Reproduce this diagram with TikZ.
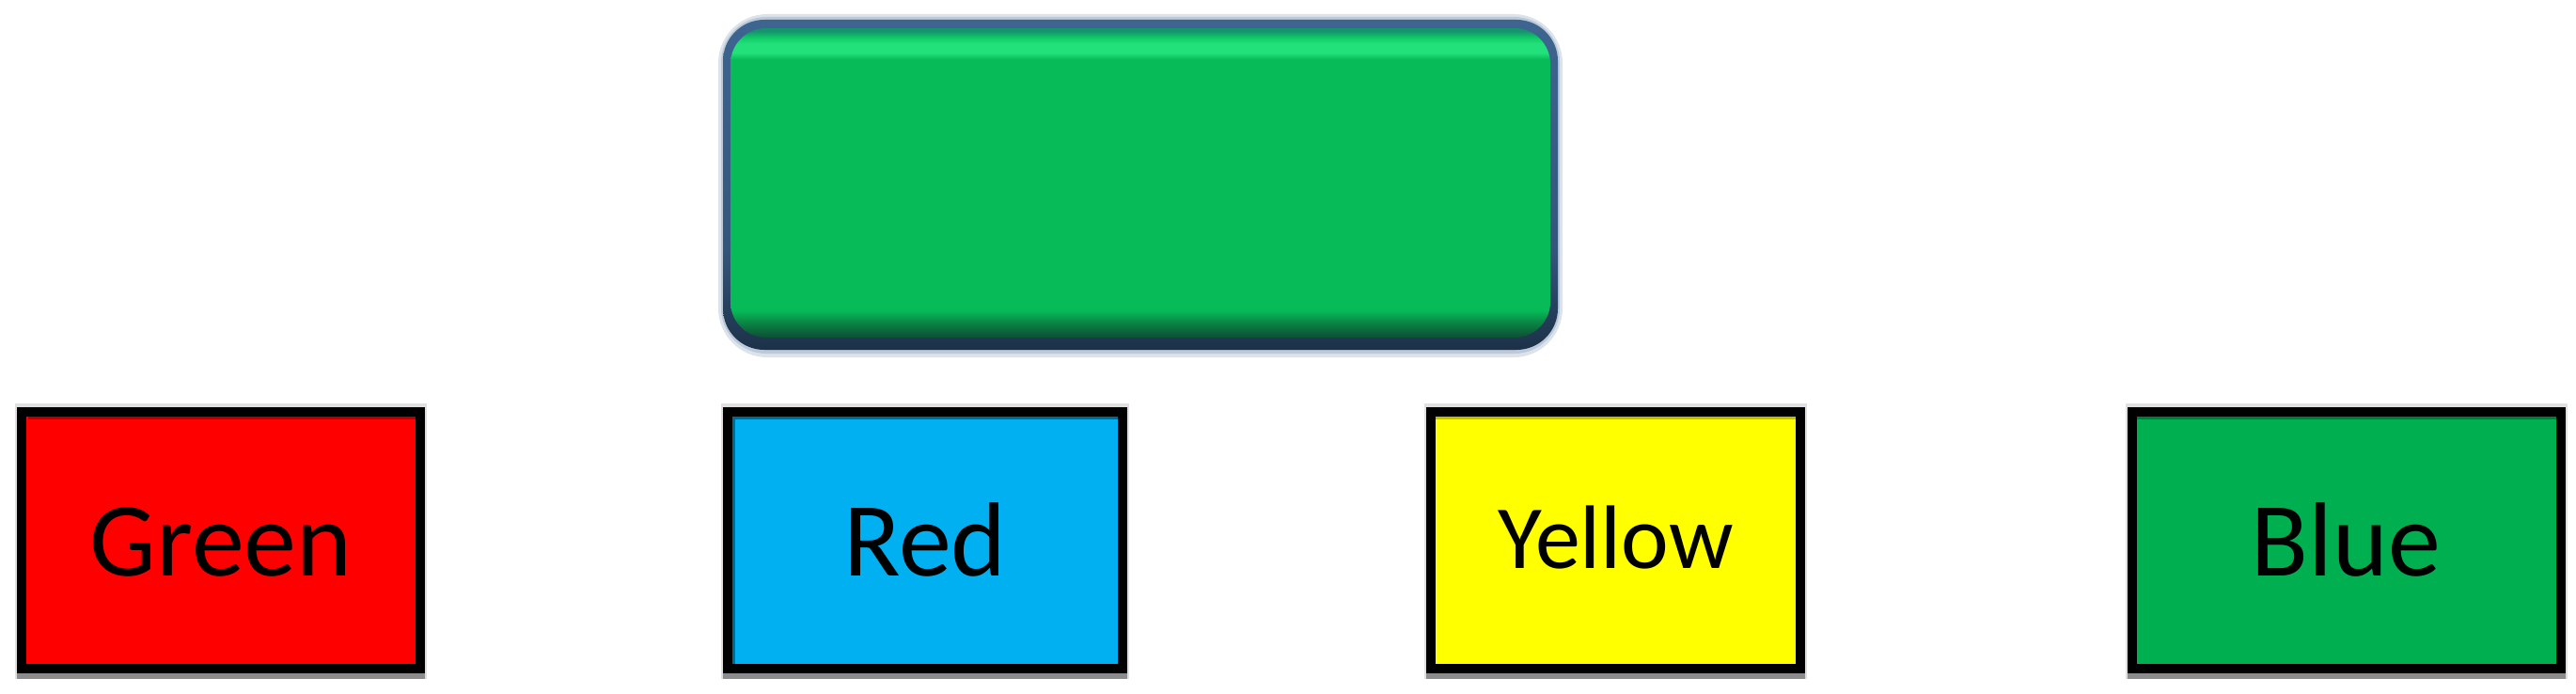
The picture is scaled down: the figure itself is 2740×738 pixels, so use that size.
\documentclass[tikz,border=0pt]{standalone}
\usepackage{fontspec}
\setmainfont{Carlito}
\definecolor{cRed}{HTML}{FF0000}
\definecolor{cCyan}{HTML}{00B0F0}
\definecolor{cYellow}{HTML}{FFFF00}
\definecolor{cGreen}{HTML}{00B050}
\definecolor{topGreen}{HTML}{07BC58}
\definecolor{topEdge}{HTML}{3E6590}
\definecolor{topEdgeDark}{HTML}{1C3148}
\definecolor{bevLight}{HTML}{22E07A}
\definecolor{bevTop}{HTML}{0ECB66}
\definecolor{bevTeal}{HTML}{17936E}
\definecolor{bevDark}{HTML}{0B7A40}
\definecolor{bevDarker}{HTML}{0D4E35}
\pgfdeclareverticalshading{edgeshade}{100bp}{color(0bp)=(topEdgeDark); color(25bp)=(topEdgeDark); color(40bp)=(topEdge!70!topEdgeDark); color(75bp)=(topEdge); color(100bp)=(topEdge)}
% inner area: 25bp (bottom) .. 75bp (top)
\pgfdeclareverticalshading{bevelshade}{100bp}{color(0bp)=(bevDarker); color(25bp)=(bevDarker); color(27bp)=(bevDark); color(29.5bp)=(topGreen); color(70bp)=(topGreen); color(71bp)=(bevLight); color(72.5bp)=(bevLight); color(73.5bp)=(bevTop); color(74.5bp)=(bevTeal); color(75bp)=(bevTeal); color(100bp)=(bevTeal)}
\tikzset{
  colbox/.style={draw=black, line width=5pt, minimum height=136.5pt,
    inner sep=0pt, font=\fontsize{55}{60}\selectfont, text=black},
  topbox/.style={rounded corners=22pt, minimum width=444pt, minimum height=175.5pt, inner sep=0pt}
}
\begin{document}
\begin{tikzpicture}[x=0.5pt,y=-0.5pt]
\useasboundingbox (0,0) rectangle (2740,738);
% shadows of the coloured boxes
\foreach \cx/\w in {235/434, 984/430, 1718.5/403, 2495.5/466}{
  \fill[black!12] (\cx-\w/2-2,429) rectangle (\cx+\w/2+2,722);
  \fill[black!45] (\cx-\w/2,436) rectangle (\cx+\w/2,722);
}
% top box glow
\fill[topEdge!18, rounded corners=26pt] (764,15) rectangle (1662,380);
\fill[topEdge!35, rounded corners=24pt] (767,18) rectangle (1659,376);
% top box: outer edge with shading, inner bevelled face
\node[topbox, shading=edgeshade] (top) at (1213,196.5) {};
\path[shading=bevelshade, rounded corners=19pt] (777,30) rectangle (1649,359);
% coloured boxes
\node[colbox, fill=cRed, minimum width=212pt] (green) at (235,574.5) {};
\node[colbox, fill=cCyan, minimum width=210pt] (red) at (984,574.5) {};
\node[colbox, fill=cYellow, minimum width=196.5pt] (yellow) at (1718.5,574.5) {};
\node[colbox, fill=cGreen, minimum width=228pt] (blue) at (2495.5,574.5) {};
% inner dark edges
\fill[cRed!70!black] (30,443) rectangle (442,446);
\fill[cCyan!60!black] (779,443) rectangle (1189,446);
\fill[cCyan!60!black] (779,443) rectangle (782,706);
\fill[cYellow!75!black] (1527,443) rectangle (1910,446);
\fill[cGreen!70!black] (2273,443) rectangle (2719,446);
% labels
\node[font=\fontsize{56}{60}\selectfont, anchor=base] at ([yshift=-19pt]green.center) {Green};
\node[font=\fontsize{56}{60}\selectfont, anchor=base] at ([yshift=-19pt]red.center) {Red};
\node[font=\fontsize{48}{52}\selectfont, anchor=base] at ([yshift=-15pt]yellow.center) {Yellow};
\node[font=\fontsize{56}{60}\selectfont, anchor=base] at ([yshift=-19pt]blue.center) {Blue};
\end{tikzpicture}
\end{document}
